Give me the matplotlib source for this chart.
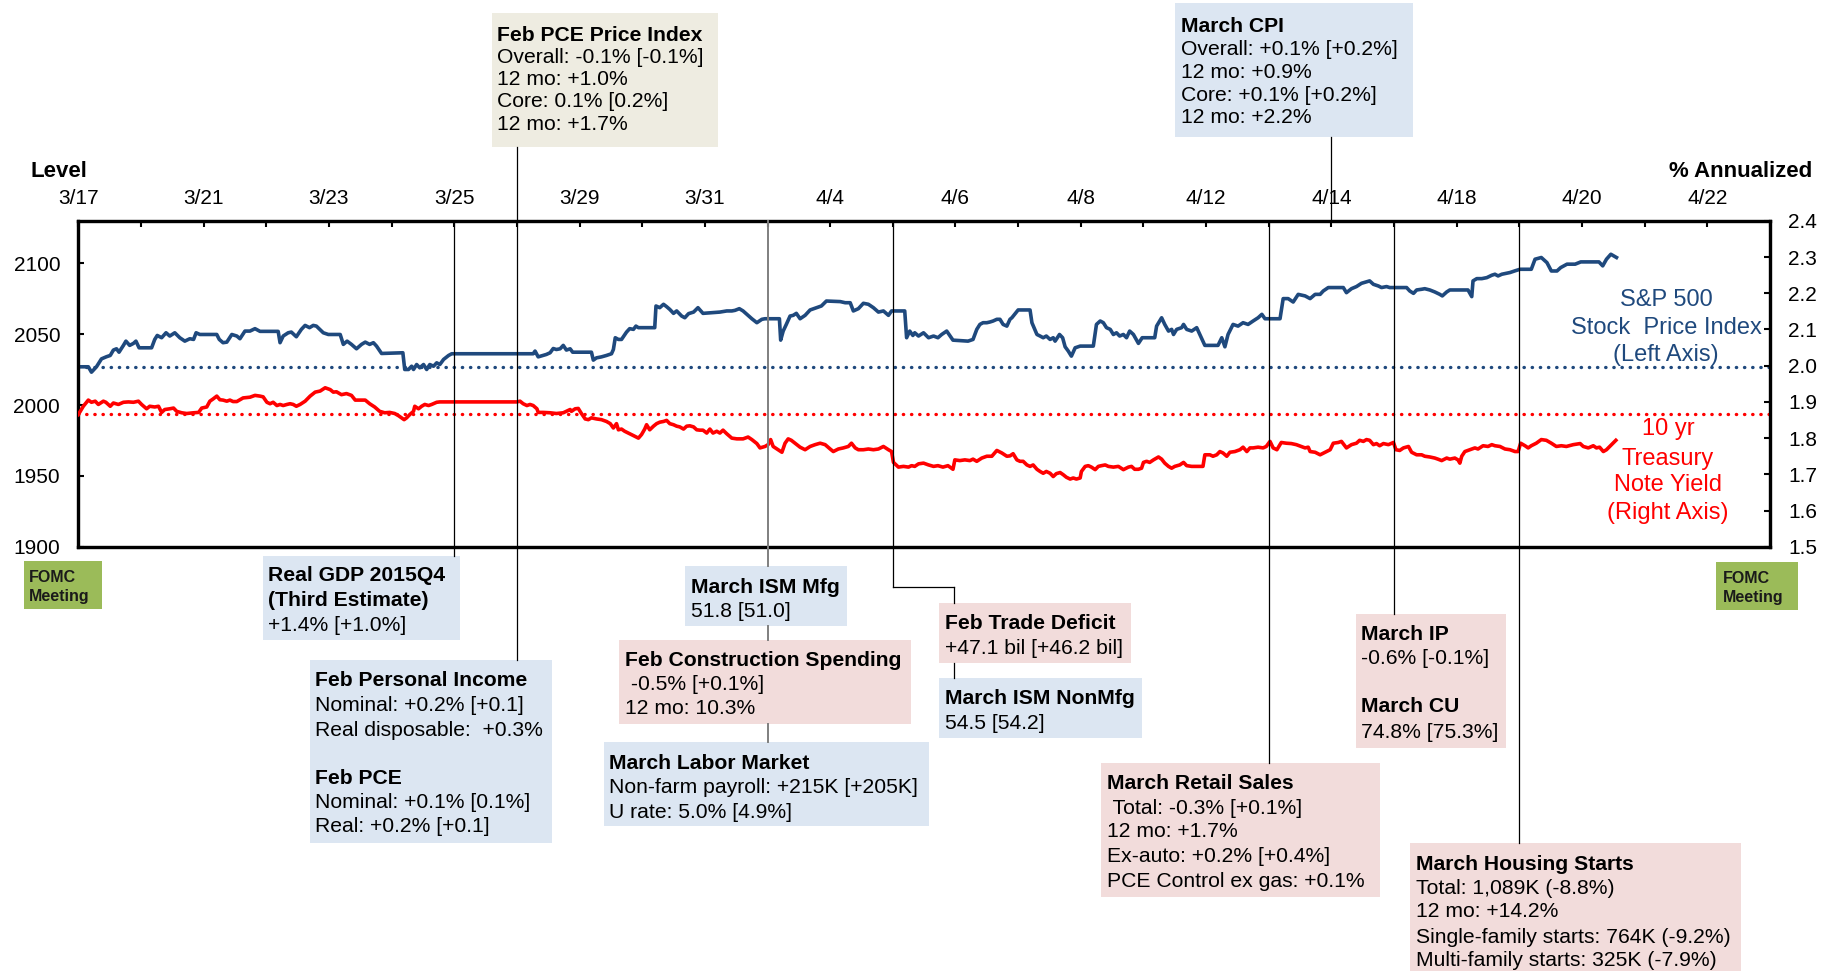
import matplotlib
matplotlib.use("Agg")
import matplotlib.pyplot as plt
from matplotlib.patches import Rectangle
from matplotlib.lines import Line2D

W, H = 1832, 971
plt.rcParams['font.family'] = ['Liberation Sans', 'DejaVu Sans']

# ---------------- data ----------------
# x axis: trading-day slots (weekdays) starting 3/17; labels every 2nd slot
date_labels = ['3/17', '3/21', '3/23', '3/25', '3/29', '3/31', '4/4', '4/6',
               '4/8', '4/12', '4/14', '4/18', '4/20', '4/22']
n_slots = 27

sp500_t = [
    0.00, 0.16, 0.21, 0.29, 0.37, 0.45, 0.51, 0.56, 0.61, 0.65, 0.72, 0.76, 0.82, 0.88, 0.92, 0.97,
    1.17, 1.22, 1.26, 1.33, 1.40, 1.46, 1.54, 1.62, 1.70, 1.78, 1.84, 1.88, 1.94,
    2.21, 2.25, 2.31, 2.37, 2.45, 2.53, 2.58, 2.66, 2.74, 2.82, 2.90, 2.95,
    3.19, 3.22, 3.27, 3.35, 3.40, 3.48, 3.56, 3.62, 3.69, 3.75, 3.80, 3.91, 3.99,
    4.18, 4.23, 4.29, 4.36, 4.44, 4.52, 4.58, 4.65, 4.71, 4.76, 4.84,
    5.18, 5.21, 5.27, 5.32, 5.35, 5.40, 5.45, 5.51, 5.56, 5.61, 5.67, 5.72, 5.77, 5.83, 5.91, 5.96,
    7.26, 7.29, 7.34, 7.42, 7.47, 7.53, 7.58, 7.63, 7.69, 7.74, 7.79, 7.85, 7.89,
    8.19, 8.22, 8.27, 8.35, 8.43, 8.51, 8.54, 8.57, 8.62, 8.67, 8.75, 8.80, 8.86, 8.90, 8.94,
    9.20, 9.22, 9.28, 9.34, 9.39, 9.44, 9.50, 9.55, 9.63, 9.68, 9.74, 9.82, 9.89, 9.97,
    10.13, 10.24, 10.35, 10.43, 10.48, 10.55, 10.61, 10.69, 10.75, 10.83, 10.91, 10.96,
    11.19, 11.21, 11.25, 11.30, 11.36, 11.41, 11.46, 11.52, 11.60, 11.68, 11.78, 11.86, 11.94,
    12.16, 12.24, 12.32, 12.37, 12.45, 12.53, 12.61, 12.69, 12.77, 12.85, 12.93, 12.98,
    13.19, 13.22, 13.27, 13.32, 13.35, 13.41, 13.49, 13.57, 13.65, 13.72, 13.78, 13.86, 13.96,
    14.20, 14.28, 14.34, 14.39, 14.44, 14.50, 14.55, 14.60, 14.66, 14.71, 14.76, 14.82, 14.87, 14.90,
    15.00, 15.19, 15.22, 15.30, 15.35, 15.40, 15.45, 15.51, 15.56, 15.59, 15.66, 15.71, 15.75, 15.80, 15.85, 15.91, 15.99,
    16.20, 16.25, 16.31, 16.36, 16.41, 16.47, 16.52, 16.57, 16.62, 16.68, 16.73, 16.78, 16.84, 16.92, 16.98,
    17.18, 17.21, 17.29, 17.34, 17.40, 17.45, 17.48, 17.53, 17.61, 17.64, 17.69, 17.77, 17.85, 17.90, 17.98,
    18.19, 18.25, 18.30, 18.35, 18.43, 18.51, 18.59, 18.67, 18.75, 18.83, 18.89, 18.94,
    19.18, 19.23, 19.31, 19.39, 19.47, 19.58, 19.66, 19.74, 19.82, 19.87, 19.95,
    20.19, 20.24, 20.32, 20.40, 20.48, 20.56, 20.61, 20.67, 20.75, 20.80, 20.88, 20.93,
    21.20, 21.25, 21.31, 21.36, 21.44, 21.49, 21.57, 21.65, 21.73, 21.77, 21.84, 21.89,
    22.18, 22.24, 22.26, 22.32, 22.40, 22.48, 22.56, 22.61, 22.66, 22.72, 22.80, 22.85, 22.93, 23.01,
    23.19, 23.25, 23.35, 23.44, 23.51, 23.60, 23.66, 23.76, 23.89, 23.98,
    24.27, 24.33, 24.39, 24.46, 24.55]

sp500 = [
    2027.0, 2027.0, 2023.2, 2027.0, 2032.6, 2034.1, 2035.0, 2038.8, 2039.7, 2037.3, 2042.1, 2045.1, 2042.1, 2043.5, 2045.1, 2040.4,
    2040.4, 2046.3, 2049.1, 2047.5, 2051.0, 2048.7, 2051.0, 2047.5, 2045.1, 2046.8, 2046.3, 2051.0, 2049.8,
    2049.8, 2046.3, 2044.0, 2044.4, 2049.8, 2048.7, 2046.8, 2052.2, 2052.2, 2053.9, 2052.0, 2052.0,
    2052.0, 2044.0, 2048.7, 2051.0, 2051.5, 2048.2, 2053.4, 2056.2, 2054.6, 2056.2, 2055.7, 2051.0, 2049.8,
    2049.8, 2042.8, 2045.1, 2042.8, 2039.7, 2042.8, 2044.4, 2042.8, 2044.0, 2041.6, 2036.4,
    2036.9, 2025.1, 2025.1, 2027.4, 2025.1, 2028.6, 2026.3, 2028.6, 2025.1, 2028.6, 2027.4, 2029.8, 2028.6, 2032.2, 2035.0, 2036.2,
    2036.2, 2038.1, 2034.0, 2035.0, 2035.7, 2036.9, 2039.9, 2039.2, 2039.7, 2042.1, 2038.8, 2039.7, 2037.3,
    2037.3, 2031.7, 2033.3, 2034.0, 2035.0, 2036.2, 2039.2, 2047.5, 2046.3, 2046.3, 2051.5, 2053.9, 2053.4, 2055.7, 2054.6,
    2054.6, 2069.9, 2068.7, 2071.1, 2069.4, 2067.5, 2064.7, 2066.4, 2062.8, 2061.6, 2064.5, 2065.6, 2068.7, 2064.7,
    2065.2, 2065.6, 2066.4, 2066.4, 2066.8, 2068.0, 2066.4, 2063.3, 2060.9, 2058.1, 2060.5, 2060.9,
    2060.9, 2045.8, 2052.2, 2056.9, 2062.8, 2063.3, 2064.7, 2060.9, 2063.3, 2067.1, 2068.7, 2069.9, 2073.4,
    2073.0, 2072.2, 2072.2, 2066.4, 2068.0, 2071.8, 2071.1, 2068.7, 2065.6, 2066.4, 2063.3, 2066.4,
    2066.4, 2047.5, 2052.2, 2049.1, 2051.0, 2048.7, 2051.0, 2047.5, 2048.7, 2047.5, 2049.8, 2052.2, 2045.8,
    2045.1, 2046.3, 2053.4, 2056.9, 2058.1, 2058.1, 2058.6, 2059.3, 2060.5, 2060.5, 2056.9, 2055.7, 2060.5, 2061.6,
    2067.1, 2067.1, 2058.1, 2049.8, 2048.7, 2047.5, 2048.7, 2046.3, 2047.5, 2045.1, 2049.8, 2047.5, 2041.1, 2038.1, 2034.5, 2040.4, 2041.6,
    2041.6, 2056.9, 2059.3, 2058.1, 2054.6, 2053.4, 2049.8, 2051.0, 2048.7, 2049.8, 2047.5, 2052.2, 2049.8, 2043.5, 2047.5,
    2047.5, 2055.7, 2061.6, 2056.9, 2052.2, 2053.4, 2049.8, 2053.4, 2054.6, 2056.9, 2053.4, 2052.2, 2054.6, 2049.8, 2042.1,
    2042.1, 2047.5, 2041.1, 2049.8, 2056.9, 2055.7, 2058.1, 2056.9, 2059.3, 2061.6, 2064.0, 2060.9,
    2060.9, 2075.1, 2075.1, 2072.7, 2078.1, 2077.0, 2075.1, 2078.1, 2078.1, 2080.5, 2082.9,
    2082.9, 2079.3, 2082.1, 2083.6, 2085.9, 2086.9, 2087.6, 2085.2, 2084.0, 2082.9, 2083.6, 2082.9,
    2082.9, 2080.5, 2078.8, 2081.2, 2081.7, 2082.1, 2081.2, 2079.8, 2078.1, 2077.0, 2079.8, 2081.2,
    2081.2, 2076.5, 2087.6, 2089.2, 2089.2, 2089.9, 2091.6, 2092.3, 2091.1, 2092.3, 2093.0, 2093.5, 2094.7, 2095.8,
    2095.8, 2102.9, 2104.1, 2100.5, 2094.6, 2094.6, 2097.0, 2099.4, 2099.4, 2101.0,
    2101.0, 2098.2, 2102.9, 2106.4, 2104.1]

tsy_t = [
    0.00, 0.08, 0.16, 0.21, 0.27, 0.32, 0.40, 0.44, 0.51, 0.56, 0.64, 0.72, 0.80, 0.88, 0.96,
    1.01, 1.09, 1.14, 1.22, 1.28, 1.33, 1.38, 1.46, 1.52, 1.57, 1.65, 1.73, 1.84, 1.92, 1.97,
    2.05, 2.10, 2.15, 2.21, 2.26, 2.31, 2.37, 2.42, 2.47, 2.53, 2.58, 2.63, 2.74, 2.82, 2.90, 2.95,
    3.01, 3.06, 3.11, 3.17, 3.22, 3.27, 3.33, 3.38, 3.43, 3.48, 3.54, 3.62, 3.70, 3.78, 3.86, 3.94,
    4.02, 4.07, 4.12, 4.20, 4.28, 4.36, 4.42, 4.50, 4.58, 4.65, 4.73, 4.81, 4.89, 4.97,
    5.05, 5.11, 5.16, 5.20, 5.24, 5.29, 5.35, 5.37, 5.43, 5.48, 5.53, 5.59, 5.64, 5.72, 5.77,
    7.00, 7.05, 7.10, 7.16, 7.21, 7.26, 7.32, 7.34, 7.42, 7.53, 7.63, 7.74, 7.79, 7.85, 7.87, 7.93, 7.98,
    8.03, 8.09, 8.14, 8.19, 8.27, 8.35, 8.43, 8.49, 8.54, 8.59, 8.62, 8.67, 8.72, 8.78, 8.86, 8.94, 8.99,
    9.04, 9.07, 9.12, 9.18, 9.23, 9.28, 9.34, 9.39, 9.44, 9.50, 9.55, 9.60, 9.66, 9.71, 9.76, 9.82, 9.87, 9.92, 9.97,
    10.03, 10.08, 10.13, 10.19, 10.24, 10.29, 10.35, 10.43, 10.51, 10.61, 10.69, 10.75, 10.83, 10.88, 10.96,
    11.01, 11.05, 11.09, 11.17, 11.23, 11.28, 11.33, 11.38, 11.44, 11.52, 11.60, 11.68, 11.76, 11.84, 11.92,
    12.00, 12.05, 12.13, 12.21, 12.29, 12.34, 12.40, 12.45, 12.53, 12.61, 12.69, 12.77, 12.85, 12.93, 12.98,
    13.01, 13.09, 13.17, 13.25, 13.30, 13.35, 13.41, 13.49, 13.57, 13.65, 13.72, 13.80, 13.88, 13.96, 13.99,
    14.07, 14.15, 14.23, 14.28, 14.34, 14.42, 14.50, 14.58, 14.66, 14.74, 14.82, 14.87, 14.92, 14.98,
    15.03, 15.08, 15.14, 15.19, 15.24, 15.30, 15.35, 15.40, 15.45, 15.51, 15.56, 15.61, 15.67, 15.72, 15.77, 15.83, 15.88, 15.93, 15.99,
    16.01, 16.07, 16.12, 16.17, 16.23, 16.28, 16.33, 16.39, 16.44, 16.52, 16.60, 16.68, 16.76, 16.81, 16.86, 16.92, 16.97,
    17.00, 17.05, 17.10, 17.16, 17.24, 17.29, 17.34, 17.40, 17.45, 17.50, 17.58, 17.64, 17.69, 17.77, 17.85, 17.95, 17.98,
    18.06, 18.11, 18.17, 18.22, 18.27, 18.33, 18.38, 18.46, 18.54, 18.59, 18.65, 18.70, 18.75, 18.83, 18.91, 18.96,
    19.02, 19.07, 19.13, 19.20, 19.28, 19.36, 19.44, 19.52, 19.58, 19.63, 19.66, 19.74, 19.82, 19.90, 19.98,
    20.03, 20.11, 20.16, 20.24, 20.32, 20.40, 20.45, 20.51, 20.56, 20.61, 20.67, 20.72, 20.77, 20.83, 20.91, 20.99,
    21.03, 21.09, 21.15, 21.23, 21.28, 21.36, 21.44, 21.49, 21.57, 21.65, 21.70, 21.76, 21.84, 21.89, 21.97,
    22.02, 22.05, 22.08, 22.13, 22.21, 22.29, 22.34, 22.42, 22.50, 22.56, 22.61, 22.69, 22.77, 22.85, 22.93, 22.98,
    23.02, 23.09, 23.14, 23.19, 23.27, 23.35, 23.43, 23.51, 23.59, 23.67, 23.75, 23.86, 23.97,
    24.02, 24.10, 24.18, 24.23, 24.28, 24.34, 24.39, 24.47, 24.54]

tsy10 = [
    1.865, 1.888, 1.905, 1.899, 1.902, 1.893, 1.902, 1.899, 1.888, 1.897, 1.893, 1.899, 1.900, 1.899, 1.902,
    1.893, 1.881, 1.888, 1.886, 1.888, 1.871, 1.879, 1.881, 1.883, 1.874, 1.870, 1.868, 1.870, 1.871, 1.883,
    1.886, 1.902, 1.908, 1.916, 1.906, 1.905, 1.902, 1.905, 1.901, 1.901, 1.906, 1.911, 1.913, 1.918, 1.916, 1.914,
    1.899, 1.895, 1.899, 1.890, 1.893, 1.890, 1.893, 1.895, 1.893, 1.888, 1.893, 1.902, 1.916, 1.927, 1.930, 1.939,
    1.934, 1.927, 1.928, 1.920, 1.923, 1.918, 1.905, 1.905, 1.905, 1.895, 1.886, 1.874, 1.870, 1.871,
    1.868, 1.862, 1.856, 1.851, 1.856, 1.865, 1.874, 1.888, 1.881, 1.888, 1.893, 1.890, 1.893, 1.899, 1.900,
    1.900, 1.902, 1.895, 1.890, 1.893, 1.890, 1.881, 1.871, 1.871, 1.870, 1.868, 1.870, 1.874, 1.879, 1.874, 1.881, 1.882,
    1.868, 1.853, 1.851, 1.856, 1.853, 1.851, 1.846, 1.840, 1.828, 1.840, 1.823, 1.825, 1.819, 1.814, 1.807, 1.800, 1.810,
    1.825, 1.837, 1.823, 1.833, 1.840, 1.844, 1.846, 1.849, 1.840, 1.837, 1.833, 1.831, 1.825, 1.833, 1.834, 1.831, 1.823, 1.822, 1.822,
    1.814, 1.825, 1.814, 1.819, 1.814, 1.822, 1.812, 1.800, 1.798, 1.798, 1.803, 1.796, 1.785, 1.773, 1.777,
    1.782, 1.796, 1.777, 1.768, 1.761, 1.786, 1.798, 1.794, 1.786, 1.775, 1.768, 1.777, 1.782, 1.786, 1.782,
    1.770, 1.763, 1.770, 1.773, 1.777, 1.786, 1.773, 1.768, 1.768, 1.770, 1.768, 1.770, 1.777, 1.768, 1.763,
    1.733, 1.720, 1.722, 1.720, 1.724, 1.722, 1.729, 1.731, 1.726, 1.722, 1.724, 1.720, 1.724, 1.714, 1.740,
    1.738, 1.740, 1.738, 1.742, 1.736, 1.745, 1.750, 1.750, 1.766, 1.759, 1.750, 1.751, 1.757, 1.740,
    1.736, 1.736, 1.726, 1.722, 1.726, 1.714, 1.708, 1.703, 1.708, 1.703, 1.694, 1.702, 1.705, 1.699, 1.692, 1.687, 1.690, 1.687, 1.690,
    1.708, 1.722, 1.724, 1.720, 1.713, 1.722, 1.724, 1.726, 1.722, 1.720, 1.722, 1.713, 1.720, 1.722, 1.714, 1.714, 1.717,
    1.733, 1.736, 1.733, 1.740, 1.748, 1.742, 1.731, 1.722, 1.717, 1.722, 1.726, 1.733, 1.724, 1.722, 1.722, 1.722, 1.754,
    1.754, 1.750, 1.754, 1.763, 1.759, 1.750, 1.761, 1.763, 1.768, 1.775, 1.763, 1.773, 1.773, 1.775, 1.773, 1.777,
    1.791, 1.773, 1.768, 1.788, 1.786, 1.785, 1.782, 1.777, 1.773, 1.775, 1.763, 1.761, 1.754, 1.761, 1.768,
    1.786, 1.788, 1.791, 1.773, 1.782, 1.786, 1.794, 1.791, 1.796, 1.794, 1.782, 1.785, 1.779, 1.785, 1.782, 1.788,
    1.768, 1.766, 1.773, 1.777, 1.761, 1.754, 1.754, 1.750, 1.748, 1.745, 1.742, 1.738, 1.745, 1.742, 1.745,
    1.740, 1.731, 1.750, 1.763, 1.768, 1.773, 1.770, 1.779, 1.777, 1.782, 1.779, 1.777, 1.770, 1.768, 1.763, 1.763,
    1.786, 1.779, 1.773, 1.779, 1.786, 1.796, 1.794, 1.786, 1.777, 1.779, 1.777, 1.782, 1.785,
    1.777, 1.773, 1.779, 1.773, 1.775, 1.763, 1.768, 1.782, 1.794]

sp500_ref = 2027.0     # dotted reference level (left axis)
tsy_ref = 1.867        # dotted reference level (right axis)

left_ticks = [1900, 1950, 2000, 2050, 2100]
right_ticks = [1.5, 1.6, 1.7, 1.8, 1.9, 2.0, 2.1, 2.2, 2.3, 2.4]

# release dates (trading-day slot of each event)
ev_gdp, ev_pce, ev_jobs, ev_trade, ev_retail, ev_cpi, ev_ip, ev_hs = 6, 7, 11, 13, 19, 20, 21, 23

BLUE = '#1F497D'
RED = '#FF0000'
LB = '#DCE6F2'
PINK = '#F2DCDB'
BEIGE = '#EEECE1'
GREEN = '#9BBB59'

# ---------------- figure ----------------
fig = plt.figure(figsize=(W / 100, H / 100), dpi=100)
ax_l, ax_r, ax_t, ax_b = 78.3, 1770.0, 220.8, 546.8
ax = fig.add_axes([ax_l / W, 1 - ax_b / H, (ax_r - ax_l) / W, (ax_b - ax_t) / H])
ax2 = ax.twinx()

ax.set_xlim(0, n_slots)
ax.set_ylim(1900, 2130)
ax2.set_ylim(1.5, 2.4)

ax.plot(sp500_t, sp500, color=BLUE, lw=2.6, solid_joinstyle='round', zorder=3)
ax2.plot(tsy_t, tsy10, color=RED, lw=2.6, solid_joinstyle='round', zorder=3)
ax.axhline(sp500_ref, color=BLUE, lw=2.4, linestyle=(0, (0.1, 2.35)), dash_capstyle='round', zorder=2)
ax2.axhline(tsy_ref, color=RED, lw=2.4, linestyle=(0, (0.1, 2.35)), dash_capstyle='round', zorder=2)

ax.xaxis.tick_top()
ax.set_xticks(range(0, n_slots + 1))
ax.set_xticklabels([date_labels[i // 2] if (i % 2 == 0 and i // 2 < len(date_labels)) else '' for i in range(0, n_slots + 1)])
ax.tick_params(axis='x', which='both', direction='in', length=4, width=1.5, pad=9.5,
               labelsize=15, top=True, bottom=False, labeltop=True, labelbottom=False)
ax.set_yticks(left_ticks)
ax.set_yticklabels([str(v) for v in left_ticks])
ax.tick_params(axis='y', direction='in', length=4, width=1.5, pad=13, labelsize=15)
ax2.set_yticks(right_ticks)
ax2.set_yticklabels(['%.1f' % v for v in right_ticks])
ax2.tick_params(axis='y', direction='in', length=4, width=1.5, pad=13, labelsize=15)
for a in (ax, ax2):
    for s in a.spines.values():
        s.set_linewidth(2.3)
        s.set_color('black')

# ---------------- helpers (figure pixel coords, origin top-left) ----------------
def fyp(py):
    return 1 - py / H


def xpix(slot):
    return ax.transData.transform((slot, 2000))[0] * (W / fig.bbox.width)


def vline(x, y0, y1, color='black', lw=0.9):
    fig.add_artist(Line2D([x / W, x / W], [fyp(y0), fyp(y1)], transform=fig.transFigure,
                          color=color, lw=lw, zorder=5))


def hline(x0, x1, y, color='black', lw=0.9):
    fig.add_artist(Line2D([x0 / W, x1 / W], [fyp(y), fyp(y)], transform=fig.transFigure,
                          color=color, lw=lw, zorder=5))


def box(x0, y0, x1, y1, fc):
    fig.add_artist(Rectangle((x0 / W, fyp(y1)), (x1 - x0) / W, (y1 - y0) / H,
                             transform=fig.transFigure, facecolor=fc, edgecolor='none', zorder=4))


def txt(x, yc, s, size=15.2, bold=False, color='black', ha='left'):
    em = size * 100 / 72
    fig.text(x / W, fyp(yc + 0.36 * em), s, fontsize=size,
             fontweight='bold' if bold else 'normal', color=color, ha=ha, va='baseline', zorder=6)


def card(x0, y0, x1, y1, fc, tx, lines):
    box(x0, y0, x1, y1, fc)
    for s, b, yc in lines:
        txt(tx, yc, s, bold=b)

# axis titles
txt(30, 169, 'Level', size=16, bold=True)
txt(1812, 169, '% Annualized', size=16, bold=True, ha='right')

# series annotations
for s, yc in [('S&P 500', 297), ('Stock  Price Index', 325), ('(Left Axis)', 352)]:
    txt(1666, yc, s, size=17, color=BLUE, ha='center')
for s, yc in [('10 yr', 427), ('Treasury', 456), ('Note Yield', 482), ('(Right Axis)', 510)]:
    txt(1668, yc, s, size=17, color=RED, ha='center')

# connectors
xg, xp, xj, xt = xpix(ev_gdp), xpix(ev_pce), xpix(ev_jobs), xpix(ev_trade)
xr, xc, xi, xh = xpix(ev_retail), xpix(ev_cpi), xpix(ev_ip), xpix(ev_hs)
vline(xg, ax_t, 556)
vline(xp, 147, 660)
vline(xj, ax_t, 566, color='#7F7F7F', lw=1.4)
vline(xj, 626, 640, color='#7F7F7F', lw=1.4)
vline(xj, 724, 742, color='#7F7F7F', lw=1.4)
vline(xt, ax_t, 587)
hline(xt, 954, 587)
vline(954, 587, 603)
vline(954, 663, 678)
vline(xr, ax_t, 763)
vline(xc, 137, ax_t)
vline(xi, ax_t, 614)
vline(xh, ax_t, 843)

# FOMC boxes
box(24, 561, 102, 609, GREEN)
txt(29, 576, 'FOMC', size=11.5, bold=True, color='#1A1A1A')
txt(29, 595, 'Meeting', size=11.5, bold=True, color='#1A1A1A')
box(1716, 562, 1798, 610, GREEN)
txt(1723, 577, 'FOMC', size=11.5, bold=True, color='#1A1A1A')
txt(1723, 596, 'Meeting', size=11.5, bold=True, color='#1A1A1A')

# data-release cards
card(263, 556, 460, 640, LB, 268, [
    ('Real GDP 2015Q4', True, 573), ('(Third Estimate)', True, 598), ('+1.4% [+1.0%]', False, 623)])
card(310, 660, 552, 843, LB, 315, [
    ('Feb Personal Income', True, 678), ('Nominal: +0.2% [+0.1]', False, 703),
    ('Real disposable:  +0.3%', False, 728), ('Feb PCE', True, 776),
    ('Nominal: +0.1% [0.1%]', False, 800), ('Real: +0.2% [+0.1]', False, 824)])
card(492, 13, 718, 147, BEIGE, 497, [
    ('Feb PCE Price Index', True, 33), ('Overall: -0.1% [-0.1%]', False, 55),
    ('12 mo: +1.0%', False, 77), ('Core: 0.1% [0.2%]', False, 99), ('12 mo: +1.7%', False, 122)])
card(1175, 3, 1413, 137, LB, 1181, [
    ('March CPI', True, 24), ('Overall: +0.1% [+0.2%]', False, 47),
    ('12 mo: +0.9%', False, 70), ('Core: +0.1% [+0.2%]', False, 93), ('12 mo: +2.2%', False, 115)])
card(685, 566, 847, 626, LB, 691, [
    ('March ISM Mfg', True, 585), ('51.8 [51.0]', False, 609)])
card(619, 640, 911, 724, PINK, 625, [
    ('Feb Construction Spending', True, 658), (' -0.5% [+0.1%]', False, 682), ('12 mo: 10.3%', False, 706)])
card(604, 742, 929, 826, LB, 609, [
    ('March Labor Market', True, 761), ('Non-farm payroll: +215K [+205K]', False, 785),
    ('U rate: 5.0% [4.9%]', False, 810)])
card(939, 603, 1131, 663, PINK, 945, [
    ('Feb Trade Deficit', True, 621), ('+47.1 bil [+46.2 bil]', False, 646)])
card(939, 678, 1142, 738, LB, 945, [
    ('March ISM NonMfg', True, 696), ('54.5 [54.2]', False, 721)])
card(1101, 763, 1380, 897, PINK, 1107, [
    ('March Retail Sales', True, 781), (' Total: -0.3% [+0.1%]', False, 806),
    ('12 mo: +1.7%', False, 829), ('Ex-auto: +0.2% [+0.4%]', False, 854),
    ('PCE Control ex gas: +0.1%', False, 879)])
card(1356, 614, 1506, 748, PINK, 1361, [
    ('March IP', True, 632), ('-0.6% [-0.1%]', False, 656),
    ('March CU', True, 704), ('74.8% [75.3%]', False, 730)])
card(1410, 843, 1741, 971, PINK, 1416, [
    ('March Housing Starts', True, 862), ('Total: 1,089K (-8.8%)', False, 886),
    ('12 mo: +14.2%', False, 909), ('Single-family starts: 764K (-9.2%)', False, 935),
    ('Multi-family starts: 325K (-7.9%)', False, 958)])

fig.savefig('out.png', dpi=100)
